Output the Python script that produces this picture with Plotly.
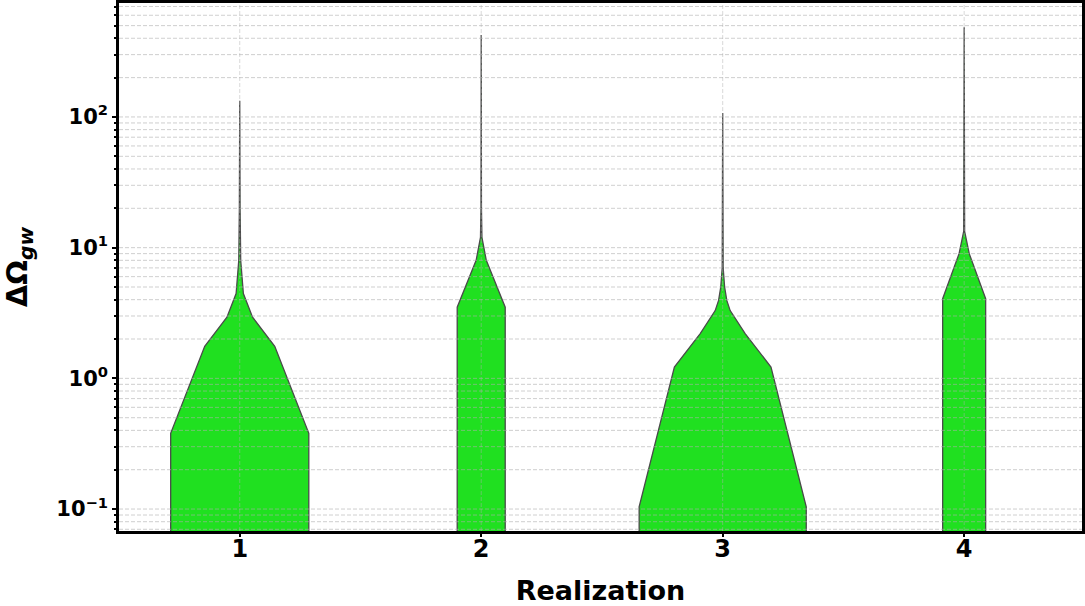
import plotly.graph_objects as go

# Realizations on the x axis
realizations = [1, 2, 3, 4]

# Violin outlines: y levels (ΔΩ_gw) and half-widths (in realization units)
v1_y = [0.01, 0.38, 1.76, 2.94, 4.45, 6.0, 8.0, 20.0, 133.0]
v1_w = [0.286, 0.286, 0.145, 0.053, 0.015, 0.008, 0.004, 0.0015, 0.0]

v2_y = [0.01, 3.5, 8.0, 12.0, 20.0, 424.0]
v2_w = [0.0994, 0.0994, 0.021, 0.003, 0.001, 0.0]

v3_y = [0.01, 0.104, 1.22, 2.2, 3.3, 3.95, 5.0, 7.0, 107.0]
v3_w = [0.346, 0.346, 0.2, 0.093, 0.031, 0.017, 0.008, 0.002, 0.0]

v4_y = [0.01, 4.07, 9.0, 13.3, 485.0]
v4_w = [0.089, 0.089, 0.021, 0.002, 0.0]

profiles = [(v1_y, v1_w), (v2_y, v2_w), (v3_y, v3_w), (v4_y, v4_w)]

major_ticks = [0.1, 1, 10, 100]
major_text = ["10<sup>−1</sup>", "10<sup>0</sup>", "10<sup>1</sup>", "10<sup>2</sup>"]
minor_ticks = [k * 10.0 ** e for e in range(-2, 3) for k in range(2, 10)]

X_RANGE = [0.5, 4.488]
Y_RANGE = [0.0679, 745.0]

fig = go.Figure()

for pos, (ys, ws) in zip(realizations, profiles):
    xs = [pos - w for w in ws] + [pos + w for w in reversed(ws)]
    yy = list(ys) + list(reversed(ys))
    fig.add_trace(go.Scatter(
        x=xs, y=yy, mode="lines", fill="toself",
        fillcolor="#20e020",
        line=dict(color="#4a4a4a", width=1.3),
        hoverinfo="skip", showlegend=False,
    ))

# Grid lines drawn on top of the violins
grid_dash = "4px,2px"
for val in minor_ticks + major_ticks:
    if Y_RANGE[0] <= val <= Y_RANGE[1]:
        fig.add_trace(go.Scatter(
            x=X_RANGE, y=[val, val], mode="lines",
            line=dict(color="rgba(175,175,175,0.75)", width=0.8, dash=grid_dash),
            hoverinfo="skip", showlegend=False,
        ))
for pos in realizations:
    fig.add_trace(go.Scatter(
        x=[pos, pos], y=Y_RANGE, mode="lines",
        line=dict(color="rgba(175,175,175,0.6)", width=0.8, dash=grid_dash),
        hoverinfo="skip", showlegend=False,
    ))

font_family = "DejaVu Sans"

fig.update_layout(
    width=1085, height=606,
    margin=dict(l=119, r=0, t=3, b=75),
    paper_bgcolor="white", plot_bgcolor="white",
    font=dict(family=font_family, color="black"),
    showlegend=False,
)

fig.update_xaxes(
    range=X_RANGE,
    tickvals=realizations,
    ticktext=[f"<b>{r}</b>" for r in realizations],
    tickfont=dict(size=24, family=font_family),
    ticks="outside", ticklen=3, tickwidth=1.5, tickcolor="black",
    ticklabelstandoff=-9,
    showgrid=False,
    showline=True, linecolor="black", linewidth=2.5, mirror=True,
    zeroline=False,
    title=dict(text="<b>Realization</b>", font=dict(size=27, family=font_family), standoff=24),
)

fig.update_yaxes(
    type="log",
    range=[-1.168, 2.872],
    tickvals=major_ticks,
    ticktext=[f"<b>{t}</b>" for t in major_text],
    tickfont=dict(size=21, family=font_family),
    ticks="outside", ticklen=4, tickwidth=1.5, tickcolor="black",
    showgrid=False,
    minor=dict(
        tickvals=minor_ticks, ticks="outside", ticklen=2.5, tickcolor="black",
        showgrid=False,
    ),
    showline=True, linecolor="black", linewidth=2.5, mirror=True,
    zeroline=False,
    title=dict(text="<b>ΔΩ<sub><i>gw</i></sub></b>", font=dict(size=29, family=font_family), standoff=22),
)

fig.write_html("out.html")
